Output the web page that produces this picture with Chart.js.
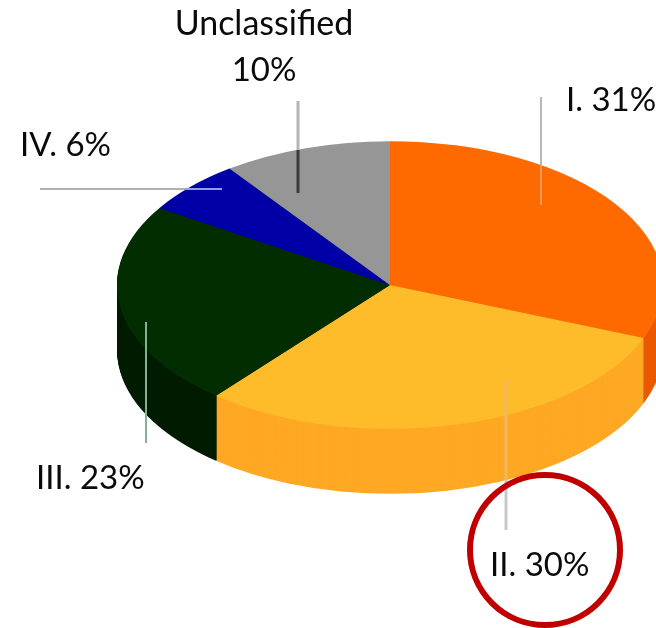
<!DOCTYPE html>
<html>
<head>
<meta charset="utf-8">
<style>html,body{margin:0;padding:0;background:#fff;overflow:hidden}canvas{display:block}</style>
<script src="https://cdn.jsdelivr.net/npm/chart.js@4/dist/chart.umd.min.js"></script>
</head>
<body>
<canvas id="c" width="656" height="628"></canvas>
<script>
const categories = ["I.", "II.", "III.", "IV.", "Unclassified"];
const shares = [31, 30, 23, 6, 10];
const topColors = ["#ff6a00", "#ffbc2a", "#012d00", "#0000a6", "#969696"];
const sideColors = ["#ea5a00", "#ffa824", "#001c00", "#000070", "#6f6f6f"];

const tilt = 0.527, depth = 65, faceY = 285;
const FONT = '33px Lato, Carlito, sans-serif';
const WIDE_FONT = '34px Lato, Carlito, sans-serif';

// label anchors: [x, baseline, align]
const labelAnchors = [[566,111,'left'],[490,576,'left'],[36,489,'left'],[20,156,'left'],[264,35,'center']];
// leader lines: [x1,y1,x2,y2,width,colour]
const leaders = [
  [298,101,298,150,3,'#b4b4b4'],[298,150,298,193,3,'#3c3c3c'],
  [40,189,185,189,2,'#b0b0b0'],[185,189,222,189,2,'#8f9fe0'],
  [541,97,541,165,2,'#b8b8b8'],[541,165,541,205,2,'#f59a55'],
  [506,380,506,480,3,'#f0b860'],[506,480,506,530,3,'#c8c8c8'],
  [146,322,146,443,2,'#86b096']
];

function pieTransform(ctx, chart){
  const cy = (chart.chartArea.top + chart.chartArea.bottom) / 2;
  ctx.translate(0, faceY);
  ctx.scale(1, tilt);
  ctx.translate(0, -cy);
}

const pie3d = {
  id: 'pie3d',
  beforeDatasetsDraw(chart){
    const ctx = chart.ctx, arcs = chart.getDatasetMeta(0).data;
    ctx.save();
    pieTransform(ctx, chart);
    for (let d = depth; d >= 1; d--) {
      arcs.forEach((a, i) => {
        ctx.beginPath();
        ctx.moveTo(a.x, a.y + d / tilt);
        ctx.arc(a.x, a.y + d / tilt, a.outerRadius, a.startAngle, a.endAngle);
        ctx.closePath();
        ctx.fillStyle = sideColors[i];
        ctx.fill();
      });
    }
  },
  afterDatasetsDraw(chart){
    const ctx = chart.ctx;
    ctx.restore();
    // white label box that clips the pie's lower left edge
    ctx.fillStyle = '#fff';
    ctx.fillRect(30, 443, 152, 60);
    leaders.forEach(l => {
      ctx.beginPath();
      ctx.moveTo(l[0], l[1]); ctx.lineTo(l[2], l[3]);
      ctx.lineWidth = l[4]; ctx.strokeStyle = l[5]; ctx.stroke();
    });
    ctx.fillStyle = '#0a0a0a';
    ctx.textBaseline = 'alphabetic';
    categories.forEach((c, i) => {
      const [x, y, al] = labelAnchors[i];
      ctx.textAlign = al;
      ctx.font = FONT;
      if (c === 'Unclassified') {
        ctx.fillText(shares[i] + '%', x, y + 46);
        ctx.font = WIDE_FONT;
        ctx.fillText(c, x, y);
      } else {
        ctx.fillText(c + ' ' + shares[i] + '%', x, y);
      }
    });
    ctx.beginPath();
    ctx.arc(545, 550, 75, 0, Math.PI * 2);
    ctx.lineWidth = 6; ctx.strokeStyle = '#c00000'; ctx.stroke();
  }
};

new Chart(document.getElementById('c'), {
  type: 'pie',
  data: {
    labels: categories,
    datasets: [{ data: shares, backgroundColor: topColors, borderWidth: 0, clip: false }]
  },
  options: {
    responsive: false,
    animation: false,
    radius: 273,
    layout: { padding: { left: 124 } },
    plugins: { legend: { display: false }, tooltip: { enabled: false } }
  },
  plugins: [pie3d]
});
</script>
</body>
</html>
